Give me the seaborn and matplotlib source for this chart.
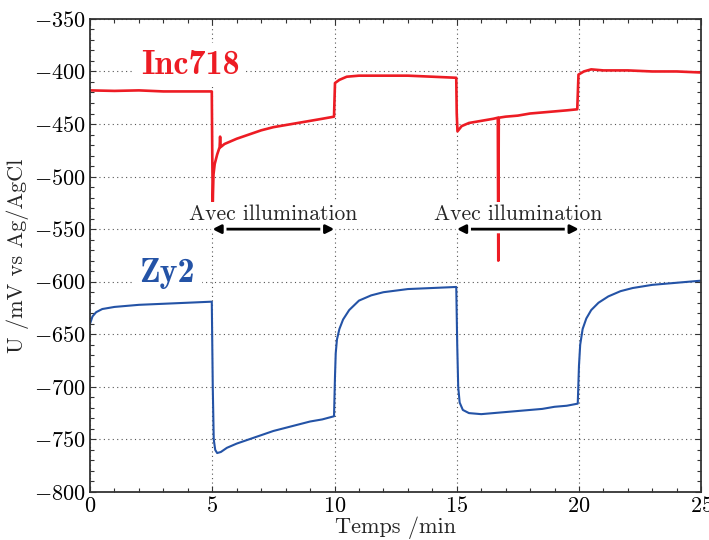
import matplotlib
matplotlib.use("Agg")
import matplotlib.pyplot as plt
import matplotlib.patheffects as pe
from matplotlib.ticker import MultipleLocator
import pandas as pd
import seaborn as sns

# Inc718 open-circuit potential (mV vs Ag/AgCl)
inc_t = [0, 1, 2, 3, 4, 4.98, 5.0, 5.02, 5.05, 5.1, 5.2, 5.3, 5.32, 5.34, 5.5,
         6, 6.5, 7, 7.5, 8, 8.5, 9, 9.5, 9.98, 10.02, 10.2, 10.5, 11, 12, 13,
         14, 14.98, 15.0, 15.03, 15.2, 15.5, 16, 16.5, 16.68, 16.7, 16.72, 17,
         17.5, 18, 18.5, 19, 19.5, 19.93, 19.98, 20.2, 20.5, 21, 22, 23, 24, 25]
inc_u = [-418, -418.5, -418, -419, -419, -419, -480, -524, -498, -488, -479,
         -472, -462, -472, -469, -464, -460, -456, -453, -451, -449, -447,
         -445, -443, -411, -408, -405, -404, -404, -404, -405, -406, -440,
         -457, -452, -449, -447, -445, -444, -580, -444, -443, -442, -440,
         -439, -438, -437, -436, -403, -400, -398, -399, -399, -400, -400, -401]

# Zy2
zy_t = [0, 0.1, 0.25, 0.5, 1, 1.5, 2, 3, 4, 4.98, 5.02, 5.06, 5.12, 5.2, 5.35,
        5.6, 6, 6.5, 7, 7.5, 8, 8.5, 9, 9.5, 9.98, 10.02, 10.05, 10.1, 10.2,
        10.35, 10.6, 11, 11.5, 12, 12.5, 13, 14, 14.98, 15.02, 15.06, 15.12,
        15.25, 15.5, 16, 16.5, 17, 17.5, 18, 18.5, 19, 19.5, 19.95, 20.0,
        20.05, 20.15, 20.3, 20.5, 20.8, 21.2, 21.7, 22.2, 23, 24, 25]
zy_u = [-640, -633, -629, -626, -624, -623, -622, -621, -620, -619, -700,
        -750, -760, -763, -762, -758, -754, -750, -746, -742, -739, -736,
        -733, -731, -728, -690, -668, -655, -645, -636, -627, -618, -613,
        -610, -608.5, -607, -606, -605, -660, -700, -715, -722, -725, -726,
        -725, -724, -723, -722, -721, -719, -718, -716, -680, -660, -645,
        -635, -627, -620, -614, -609, -606, -603, -601, -599]

# illumination periods (min)
light_on = [5, 15]
light_off = [10, 20]

RED = "#ED1C24"
BLUE = "#2453A6"

sns.set_style("ticks")
plt.rcParams.update({
    "font.family": "serif",
    "font.serif": ["cmr10"],
    "mathtext.fontset": "cm",
    "axes.formatter.use_mathtext": True,
    "axes.unicode_minus": True,
})

fig = plt.figure(figsize=(7.09, 5.40), dpi=100)
ax = fig.add_axes([0.127, 0.089, 0.862, 0.876])

inc = pd.DataFrame({"t": inc_t, "u": inc_u})
zy = pd.DataFrame({"t": zy_t, "u": zy_u})
sns.lineplot(data=inc, x="t", y="u", color=RED, lw=1.9, ax=ax, zorder=2)
sns.lineplot(data=zy, x="t", y="u", color=BLUE, lw=1.5, ax=ax, zorder=2)

ax.set_xlim(0, 25)
ax.set_ylim(-800, -350)
ax.xaxis.set_major_locator(MultipleLocator(5))
ax.xaxis.set_minor_locator(MultipleLocator(1))
ax.yaxis.set_major_locator(MultipleLocator(50))
ax.yaxis.set_minor_locator(MultipleLocator(10))
ax.tick_params(which="both", direction="in", top=True, right=True,
               labelsize=16, colors="#333333", labelcolor="black", pad=3)
ax.tick_params(which="major", length=4, width=0.8)
ax.tick_params(which="minor", length=3, width=0.8)
ax.grid(True, which="major", ls=(0, (1, 3)), color="#555555", lw=0.8, zorder=0)
for s in ax.spines.values():
    s.set_color("#333333")
    s.set_linewidth(1.3)

ax.set_xlabel("Temps /min", fontsize=16, labelpad=0)
ax.set_ylabel("U /mV vs Ag/AgCl", fontsize=16, labelpad=4)

box = dict(facecolor="white", edgecolor="none", pad=2)
ax.text(4.1, -394, "Inc718", family="cmb10", color=RED, fontsize=24.5,
        ha="center", va="center", bbox=dict(facecolor="white", edgecolor="none", pad=5), zorder=3)
ax.text(3.15, -592, "Zy2", family="cmb10", color=BLUE, fontsize=24.5,
        ha="center", va="center", bbox=dict(facecolor="white", edgecolor="none", pad=5), zorder=3)

for a, b in zip(light_on, light_off):
    ax.text((a + b) / 2, -536, "Avec illumination", fontsize=15.5,
            ha="center", va="center", bbox=box, zorder=3)
    ax.annotate("", xy=(b, -550), xytext=(a, -550), zorder=3,
                arrowprops=dict(arrowstyle="<|-|>,head_length=0.5,head_width=0.25",
                                color="black", lw=2, shrinkA=0, shrinkB=0,
                                path_effects=[pe.Stroke(linewidth=6, foreground="white"),
                                              pe.Normal()]))

fig.savefig("out.png", dpi=100)
